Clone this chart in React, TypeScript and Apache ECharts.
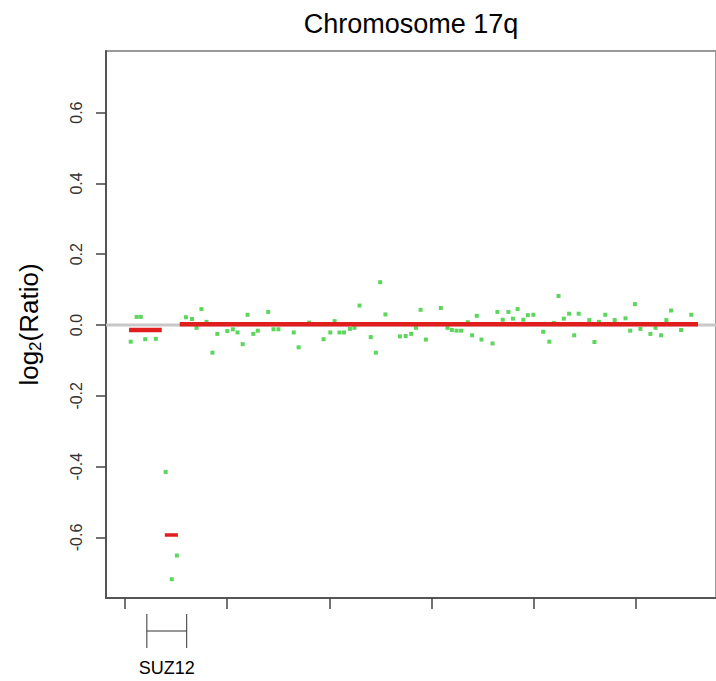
import React, { useEffect, useRef } from "react";
import * as echarts from "echarts";

// Probe positions (Mb) and log2 ratios
const pointX = [
  28.528, 28.557, 28.577, 28.599, 28.651, 28.699, 28.729, 28.754, 28.798, 28.828,
  28.85, 28.874, 28.899, 28.928, 28.952, 29.001, 29.028, 29.051, 29.076, 29.1,
  29.128, 29.15, 29.201, 29.227, 29.251, 29.326, 29.35, 29.402, 29.472, 29.505,
  29.526, 29.55, 29.572, 29.601, 29.623, 29.648, 29.703, 29.728, 29.749, 29.775,
  29.846, 29.874, 29.901, 29.924, 29.947, 29.973, 30.046, 30.079, 30.1, 30.123,
  30.145, 30.178, 30.199, 30.222, 30.245, 30.299, 30.323, 30.349, 30.377, 30.399,
  30.422, 30.45, 30.472, 30.499, 30.547, 30.577, 30.599, 30.622, 30.648, 30.674,
  30.699, 30.721, 30.773, 30.798, 30.82, 30.851, 30.897, 30.95, 30.973, 30.996,
  31.023, 31.072, 31.097, 31.124, 31.15, 31.173, 31.222, 31.272,
];
const pointY = [
  -0.047, 0.023, 0.023, -0.04, -0.039, -0.415, -0.718, -0.651, 0.022, 0.017,
  -0.008, 0.045, 0.009, -0.078, -0.025, -0.017, -0.012, -0.021, -0.054, 0.029,
  -0.025, -0.016, 0.037, -0.012, -0.012, -0.021, -0.063, 0.007, -0.04, -0.021,
  0.011, -0.021, -0.021, -0.011, -0.008, 0.055, -0.034, -0.078, 0.121, 0.03,
  -0.032, -0.031, -0.025, -0.008, 0.043, -0.041, 0.048, -0.008, -0.014, -0.016,
  -0.016, 0.008, -0.029, 0.026, -0.041, -0.052, 0.037, 0.015, 0.037, 0.018,
  0.045, 0.015, 0.028, 0.029, -0.019, -0.047, 0.006, 0.082, 0.018, 0.032,
  -0.029, 0.032, 0.014, -0.048, 0.009, 0.029, 0.014, 0.019, -0.016, 0.059,
  -0.011, -0.025, -0.008, -0.029, 0.014, 0.041, -0.014, 0.029,
];

// Segmentation results
const segStart = [28.52, 28.695, 28.768];
const segEnd = [28.68, 28.759, 31.305];
const segMean = [-0.014, -0.593, 0.002];

// Axes
const xTicks = [28.5, 29.0, 29.5, 30.0, 30.5, 31.0];
const yTicks = [-0.6, -0.4, -0.2, 0.0, 0.2, 0.4, 0.6];
const X_MIN = 28.407;
const X_MAX = 31.393;
const Y_MIN = -0.771;
const Y_MAX = 0.774;

// Gene annotation
const geneName = "SUZ12";
const geneStart = 28.607;
const geneEnd = 28.802;

const titleText = "Chromosome 17q";
const FONT = "'Liberation Sans', Arial, Helvetica, sans-serif";

export default function App() {
  const ref = useRef<HTMLDivElement>(null);

  useEffect(() => {
    if (!ref.current) return;
    const chart = echarts.init(ref.current, null, { renderer: "svg" });

    const segSeries = segStart.map((s, i) => ({
      type: "line",
      data: [
        [s, segMean[i]],
        [segEnd[i], segMean[i]],
      ],
      showSymbol: false,
      symbol: "none",
      lineStyle: { color: "#e01e1e", width: i === 1 ? 3.5 : 4.5 },
      z: 5,
      silent: true,
    }));

    chart.setOption({
      animation: false,
      textStyle: { fontFamily: FONT },
      grid: {
        left: 106,
        top: 51,
        right: -2,
        bottom: 83,
        show: true,
        borderColor: "#9a9a9a",
        borderWidth: 2,
        containLabel: false,
      },
      xAxis: {
        type: "value",
        min: X_MIN,
        max: X_MAX,
        splitLine: { show: false },
        axisLine: { show: true, onZero: false, lineStyle: { color: "#555", width: 2 } },
        axisTick: {
          show: true,
          length: 11,
          customValues: xTicks,
          lineStyle: { color: "#444", width: 1.5 },
        },
        axisLabel: { show: false },
      },
      yAxis: {
        type: "value",
        min: Y_MIN,
        max: Y_MAX,
        splitLine: { show: false },
        axisLine: { show: true, onZero: false, lineStyle: { color: "#555", width: 2 } },
        axisTick: {
          show: true,
          length: 10,
          customValues: yTicks,
          lineStyle: { color: "#444", width: 1.5 },
        },
        axisLabel: {
          customValues: yTicks,
          rotate: 90,
          margin: 22,
          fontSize: 16,
          color: "#333",
          fontFamily: FONT,
          formatter: (v: number) => v.toFixed(1),
        },
        name: "{a|log}{b|2}{a|(Ratio)}",
        nameLocation: "middle",
        nameGap: 62,
        nameRotate: 90,
        nameTextStyle: {
          rich: {
            a: { fontSize: 26, lineHeight: 30, color: "#000", fontFamily: FONT },
            b: { fontSize: 17, lineHeight: 14, verticalAlign: "bottom", color: "#000", fontFamily: FONT },
          },
        },
      },
      series: [
        {
          type: "line",
          data: [
            [X_MIN, 0],
            [X_MAX, 0],
          ],
          showSymbol: false,
          symbol: "none",
          lineStyle: { color: "#c8c8c8", width: 3 },
          z: 1,
          silent: true,
        },
        {
          type: "scatter",
          data: pointX.map((x, i) => [x, pointY[i]]),
          symbol: "rect",
          symbolSize: 4,
          itemStyle: { color: "#33cc33" },
          z: 3,
          silent: true,
        },
        ...segSeries,
      ],
    });

    const gx1 = chart.convertToPixel({ xAxisIndex: 0 }, geneStart) as number;
    const gx2 = chart.convertToPixel({ xAxisIndex: 0 }, geneEnd) as number;
    const px0 = chart.convertToPixel({ xAxisIndex: 0 }, X_MIN) as number;
    const px1 = chart.convertToPixel({ xAxisIndex: 0 }, X_MAX) as number;
    const lineStyle = { stroke: "#333", lineWidth: 1 };

    chart.setOption({
      graphic: [
        {
          type: "text",
          x: (px0 + px1) / 2,
          y: 24,
          style: {
            text: titleText,
            fontSize: 27,
            fontFamily: FONT,
            fill: "#000",
            align: "center",
            verticalAlign: "middle",
          },
        },
        { type: "line", shape: { x1: gx1, y1: 614, x2: gx1, y2: 648 }, style: lineStyle },
        { type: "line", shape: { x1: gx2, y1: 614, x2: gx2, y2: 648 }, style: lineStyle },
        { type: "line", shape: { x1: gx1, y1: 631, x2: gx2, y2: 631 }, style: lineStyle },
        {
          type: "text",
          x: (gx1 + gx2) / 2,
          y: 668,
          style: {
            text: geneName,
            fontSize: 18,
            fontFamily: FONT,
            fill: "#000",
            align: "center",
            verticalAlign: "middle",
          },
        },
      ],
    });

    return () => chart.dispose();
  }, []);

  return (
    <div
      style={{
        position: "absolute",
        left: 0,
        top: 0,
        width: 716,
        height: 681,
        overflow: "hidden",
        background: "#fff",
      }}
    >
      <div ref={ref} style={{ width: 716, height: 681 }} />
    </div>
  );
}
